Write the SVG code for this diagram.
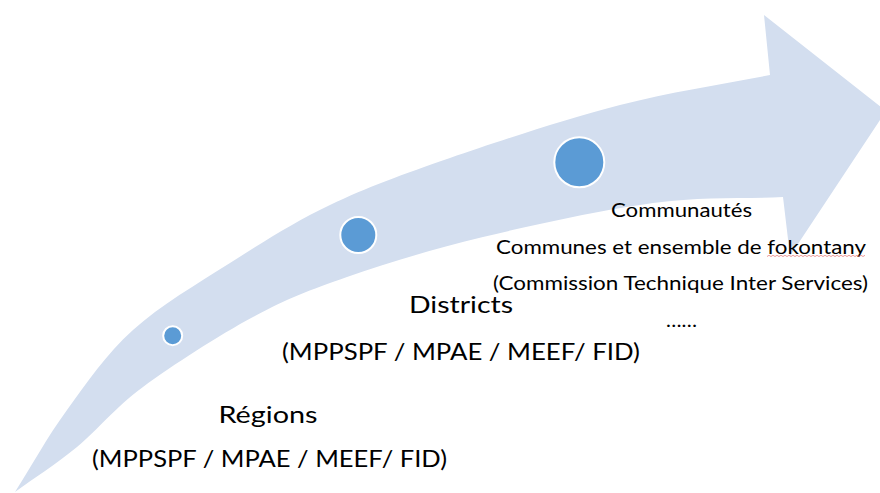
<svg xmlns="http://www.w3.org/2000/svg" width="880" height="493" viewBox="0 0 880 493">
  <defs>
    <style>
      .band { fill: #D3DEEF; stroke: none; }
      .dot { fill: #5B9BD5; stroke: #FFFFFF; stroke-width: 2; }
      .lbl { font-family: Lato, "Liberation Sans", sans-serif; fill: #000000; }
      .big { font-size: 23.5px; }
      .small { font-size: 19.5px; }
      .squiggle { fill: none; stroke: #E8817F; stroke-width: 0.8; }
    </style>
  </defs>
  <rect x="0" y="0" width="880" height="493" fill="#FFFFFF"/>

  <g id="connectors">
    <path class="band" d="M15,492 C35.7,477 55.7,464.5 77,447 C98.3,429.5 113.7,408.7 143,387 C172.3,365.3 219,335.3 253,317 C287,298.7 308.7,290.3 347,277 C385.3,263.7 432,249.3 483,237 C534,224.7 603,209.7 653,203 C703,196.3 739.7,199 783,197 L790,256 L886,111 L764,15 L770,75 C720,85 673.3,91.2 620,105 C566.7,118.8 498.3,141.3 450,158 C401.7,174.7 366.7,187.5 330,205 C293.3,222.5 262.8,242.2 230,263 C197.2,283.8 160.2,305.5 133,330 C105.8,354.5 86.7,383 67,410 C47.3,437 32.3,464.7 15,492 Z"/>
  </g>

  <g id="dot-regions">
    <circle class="dot" cx="172.7" cy="335.7" r="9.5"/>
  </g>
  <g id="dot-districts">
    <circle class="dot" cx="358.3" cy="235" r="18"/>
  </g>
  <g id="dot-communautes">
    <circle class="dot" cx="579.3" cy="162.3" r="25"/>
  </g>

  <g id="label-communautes">
    <text class="lbl small" x="611" y="216.5" textLength="141" lengthAdjust="spacingAndGlyphs">Communautés</text>
    <text class="lbl small" x="496" y="254" textLength="370" lengthAdjust="spacingAndGlyphs">Communes et ensemble de fokontany</text>
    <path class="squiggle" d="M767,256.5 l2,-1.2 l2,1.2 l2,-1.2 l2,1.2 l2,-1.2 l2,1.2 l2,-1.2 l2,1.2 l2,-1.2 l2,1.2 l2,-1.2 l2,1.2 l2,-1.2 l2,1.2 l2,-1.2 l2,1.2 l2,-1.2 l2,1.2 l2,-1.2 l2,1.2 l2,-1.2 l2,1.2 l2,-1.2 l2,1.2 l2,-1.2 l2,1.2 l2,-1.2 l2,1.2 l2,-1.2 l2,1.2 l2,-1.2 l2,1.2 l2,-1.2 l2,1.2 l2,-1.2 l2,1.2 l2,-1.2 l2,1.2 l2,-1.2 l2,1.2 l2,-1.2 l2,1.2 l2,-1.2 l2,1.2 l2,-1.2 l2,1.2 l2,-1.2 l2,1.2 l2,-1.2"/>
    <text class="lbl small" x="493" y="290" textLength="375" lengthAdjust="spacingAndGlyphs">(Commission Technique Inter Services)</text>
    <text class="lbl small" x="666" y="326.5" textLength="31" lengthAdjust="spacingAndGlyphs">……</text>
  </g>

  <g id="label-districts">
    <text class="lbl big" x="409" y="313.3" textLength="104" lengthAdjust="spacingAndGlyphs">Districts</text>
    <text class="lbl big" x="282" y="360" textLength="358" lengthAdjust="spacingAndGlyphs">(MPPSPF / MPAE / MEEF/ FID)</text>
  </g>

  <g id="label-regions">
    <text class="lbl big" x="218.5" y="423.3" textLength="99" lengthAdjust="spacingAndGlyphs">Régions</text>
    <text class="lbl big" x="92" y="467.3" textLength="355" lengthAdjust="spacingAndGlyphs">(MPPSPF / MPAE / MEEF/ FID)</text>
  </g>
</svg>
